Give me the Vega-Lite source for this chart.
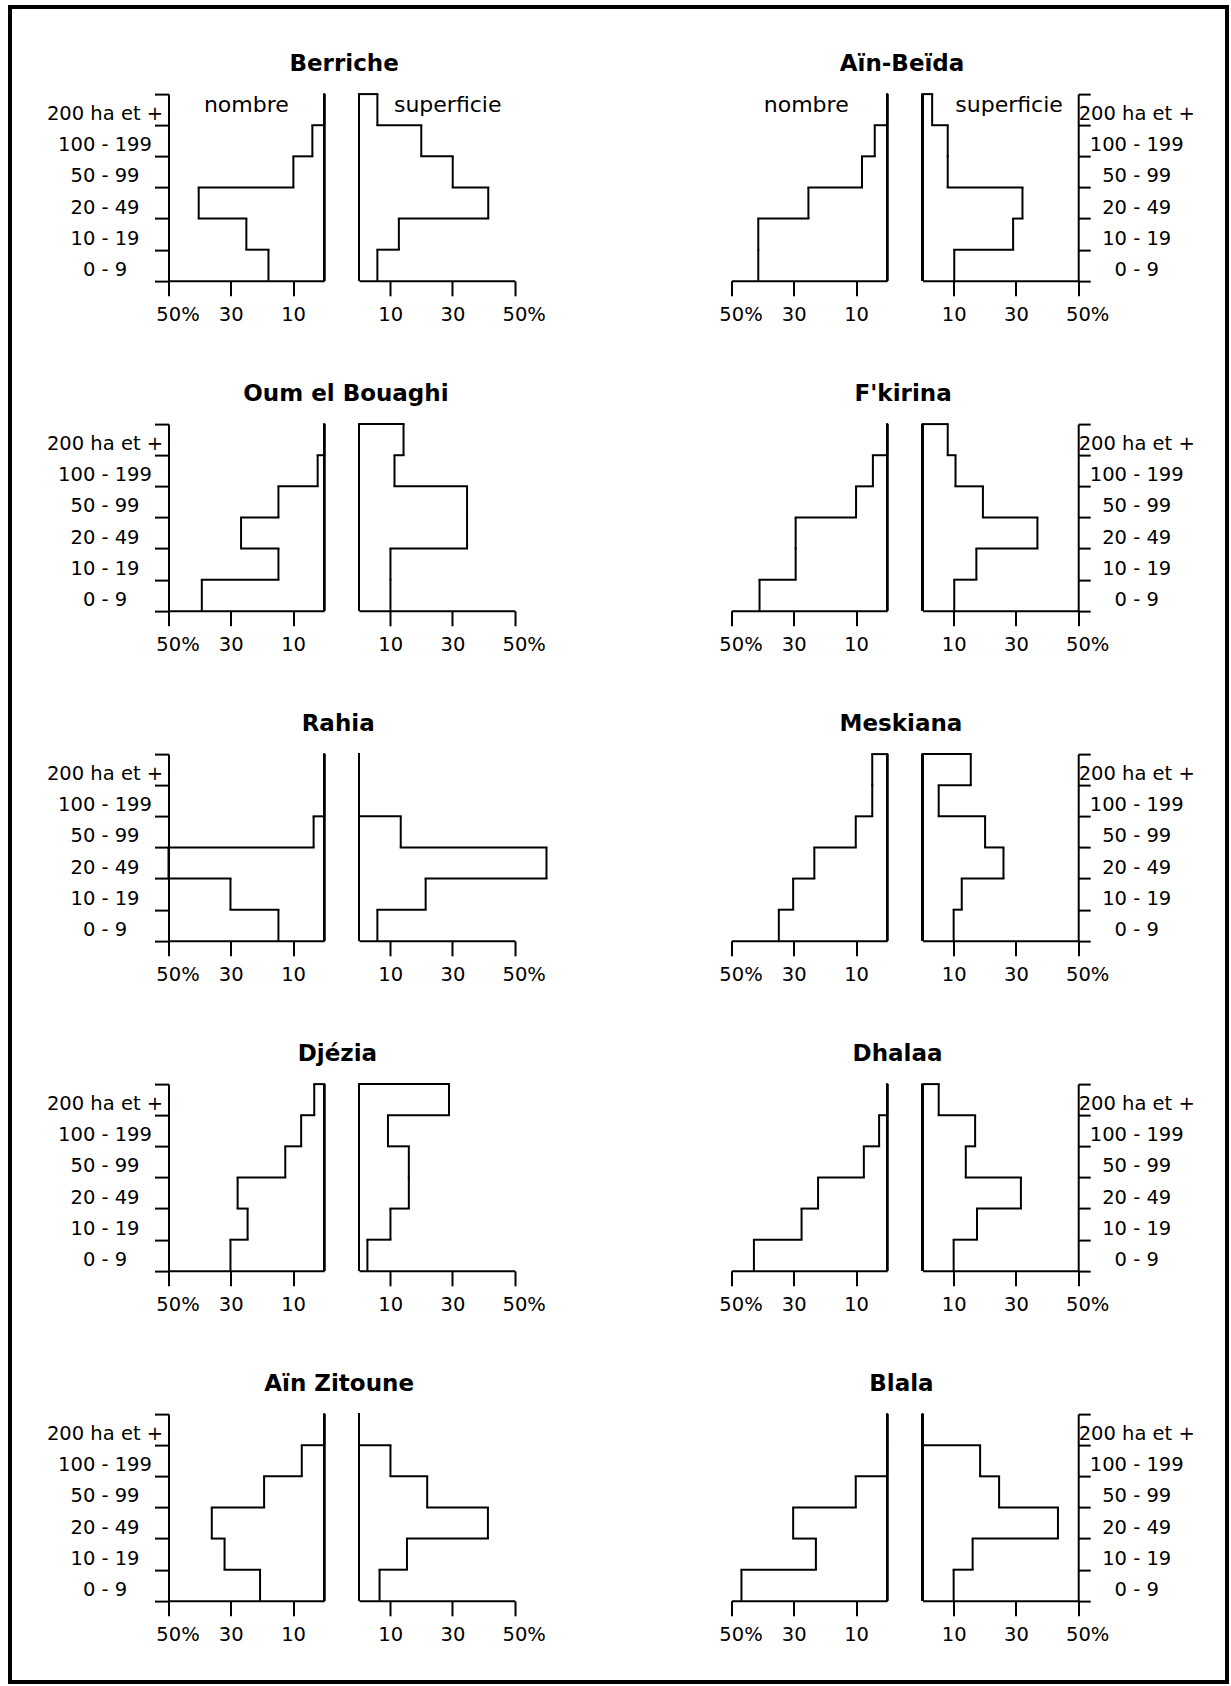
{
"$schema":"https://vega.github.io/schema/vega-lite/v6.json",
"background":"white",
"padding":{"left":10,"top":7,"right":4,"bottom":4},
"data":{"values":[
{"r":"Berriche","t":"n","c":"200 ha et +","k":5,"v":0},{"r":"Berriche","t":"n","c":"100 - 199","k":4,"v":3.8},{"r":"Berriche","t":"n","c":"50 - 99","k":3,"v":9.9},{"r":"Berriche","t":"n","c":"20 - 49","k":2,"v":40.3},{"r":"Berriche","t":"n","c":"10 - 19","k":1,"v":25.0},{"r":"Berriche","t":"n","c":"0 - 9","k":0,"v":17.9},
{"r":"Berriche","t":"s","c":"200 ha et +","k":5,"v":5.9},{"r":"Berriche","t":"s","c":"100 - 199","k":4,"v":20.0},{"r":"Berriche","t":"s","c":"50 - 99","k":3,"v":30.1},{"r":"Berriche","t":"s","c":"20 - 49","k":2,"v":41.5},{"r":"Berriche","t":"s","c":"10 - 19","k":1,"v":12.8},{"r":"Berriche","t":"s","c":"0 - 9","k":0,"v":5.9},
{"r":"Aïn-Beïda","t":"n","c":"200 ha et +","k":5,"v":0},{"r":"Aïn-Beïda","t":"n","c":"100 - 199","k":4,"v":4.0},{"r":"Aïn-Beïda","t":"n","c":"50 - 99","k":3,"v":8.1},{"r":"Aïn-Beïda","t":"n","c":"20 - 49","k":2,"v":25.3},{"r":"Aïn-Beïda","t":"n","c":"10 - 19","k":1,"v":41.4},{"r":"Aïn-Beïda","t":"n","c":"0 - 9","k":0,"v":41.4},
{"r":"Aïn-Beïda","t":"s","c":"200 ha et +","k":5,"v":3.1},{"r":"Aïn-Beïda","t":"s","c":"100 - 199","k":4,"v":8.1},{"r":"Aïn-Beïda","t":"s","c":"50 - 99","k":3,"v":8.1},{"r":"Aïn-Beïda","t":"s","c":"20 - 49","k":2,"v":32.1},{"r":"Aïn-Beïda","t":"s","c":"10 - 19","k":1,"v":29.1},{"r":"Aïn-Beïda","t":"s","c":"0 - 9","k":0,"v":10.2},
{"r":"Oum el Bouaghi","t":"n","c":"200 ha et +","k":5,"v":0},{"r":"Oum el Bouaghi","t":"n","c":"100 - 199","k":4,"v":2.1},{"r":"Oum el Bouaghi","t":"n","c":"50 - 99","k":3,"v":14.7},{"r":"Oum el Bouaghi","t":"n","c":"20 - 49","k":2,"v":26.7},{"r":"Oum el Bouaghi","t":"n","c":"10 - 19","k":1,"v":14.7},{"r":"Oum el Bouaghi","t":"n","c":"0 - 9","k":0,"v":39.3},
{"r":"Oum el Bouaghi","t":"s","c":"200 ha et +","k":5,"v":14.3},{"r":"Oum el Bouaghi","t":"s","c":"100 - 199","k":4,"v":11.4},{"r":"Oum el Bouaghi","t":"s","c":"50 - 99","k":3,"v":34.7},{"r":"Oum el Bouaghi","t":"s","c":"20 - 49","k":2,"v":34.7},{"r":"Oum el Bouaghi","t":"s","c":"10 - 19","k":1,"v":10.1},{"r":"Oum el Bouaghi","t":"s","c":"0 - 9","k":0,"v":10.1},
{"r":"F'kirina","t":"n","c":"200 ha et +","k":5,"v":0},{"r":"F'kirina","t":"n","c":"100 - 199","k":4,"v":4.6},{"r":"F'kirina","t":"n","c":"50 - 99","k":3,"v":10.0},{"r":"F'kirina","t":"n","c":"20 - 49","k":2,"v":29.4},{"r":"F'kirina","t":"n","c":"10 - 19","k":1,"v":29.4},{"r":"F'kirina","t":"n","c":"0 - 9","k":0,"v":41.0},
{"r":"F'kirina","t":"s","c":"200 ha et +","k":5,"v":8.1},{"r":"F'kirina","t":"s","c":"100 - 199","k":4,"v":10.6},{"r":"F'kirina","t":"s","c":"50 - 99","k":3,"v":19.4},{"r":"F'kirina","t":"s","c":"20 - 49","k":2,"v":36.9},{"r":"F'kirina","t":"s","c":"10 - 19","k":1,"v":17.3},{"r":"F'kirina","t":"s","c":"0 - 9","k":0,"v":10.2},
{"r":"Rahia","t":"n","c":"200 ha et +","k":5,"v":0},{"r":"Rahia","t":"n","c":"100 - 199","k":4,"v":0},{"r":"Rahia","t":"n","c":"50 - 99","k":3,"v":3.4},{"r":"Rahia","t":"n","c":"20 - 49","k":2,"v":50.0},{"r":"Rahia","t":"n","c":"10 - 19","k":1,"v":30.1},{"r":"Rahia","t":"n","c":"0 - 9","k":0,"v":14.7},
{"r":"Rahia","t":"s","c":"200 ha et +","k":5,"v":0},{"r":"Rahia","t":"s","c":"100 - 199","k":4,"v":0},{"r":"Rahia","t":"s","c":"50 - 99","k":3,"v":13.4},{"r":"Rahia","t":"s","c":"20 - 49","k":2,"v":60.2},{"r":"Rahia","t":"s","c":"10 - 19","k":1,"v":21.4},{"r":"Rahia","t":"s","c":"0 - 9","k":0,"v":5.9},
{"r":"Meskiana","t":"n","c":"200 ha et +","k":5,"v":4.8},{"r":"Meskiana","t":"n","c":"100 - 199","k":4,"v":4.8},{"r":"Meskiana","t":"n","c":"50 - 99","k":3,"v":10.1},{"r":"Meskiana","t":"n","c":"20 - 49","k":2,"v":23.4},{"r":"Meskiana","t":"n","c":"10 - 19","k":1,"v":30.2},{"r":"Meskiana","t":"n","c":"0 - 9","k":0,"v":34.8},
{"r":"Meskiana","t":"s","c":"200 ha et +","k":5,"v":15.5},{"r":"Meskiana","t":"s","c":"100 - 199","k":4,"v":5.2},{"r":"Meskiana","t":"s","c":"50 - 99","k":3,"v":20.1},{"r":"Meskiana","t":"s","c":"20 - 49","k":2,"v":26.0},{"r":"Meskiana","t":"s","c":"10 - 19","k":1,"v":12.6},{"r":"Meskiana","t":"s","c":"0 - 9","k":0,"v":10.0},
{"r":"Djézia","t":"n","c":"200 ha et +","k":5,"v":3.2},{"r":"Djézia","t":"n","c":"100 - 199","k":4,"v":7.4},{"r":"Djézia","t":"n","c":"50 - 99","k":3,"v":12.5},{"r":"Djézia","t":"n","c":"20 - 49","k":2,"v":27.8},{"r":"Djézia","t":"n","c":"10 - 19","k":1,"v":24.6},{"r":"Djézia","t":"n","c":"0 - 9","k":0,"v":30.1},
{"r":"Djézia","t":"s","c":"200 ha et +","k":5,"v":28.9},{"r":"Djézia","t":"s","c":"100 - 199","k":4,"v":9.3},{"r":"Djézia","t":"s","c":"50 - 99","k":3,"v":16.0},{"r":"Djézia","t":"s","c":"20 - 49","k":2,"v":16.0},{"r":"Djézia","t":"s","c":"10 - 19","k":1,"v":10.1},{"r":"Djézia","t":"s","c":"0 - 9","k":0,"v":2.7},
{"r":"Dhalaa","t":"n","c":"200 ha et +","k":5,"v":0},{"r":"Dhalaa","t":"n","c":"100 - 199","k":4,"v":2.6},{"r":"Dhalaa","t":"n","c":"50 - 99","k":3,"v":7.5},{"r":"Dhalaa","t":"n","c":"20 - 49","k":2,"v":22.2},{"r":"Dhalaa","t":"n","c":"10 - 19","k":1,"v":27.5},{"r":"Dhalaa","t":"n","c":"0 - 9","k":0,"v":42.8},
{"r":"Dhalaa","t":"s","c":"200 ha et +","k":5,"v":5.2},{"r":"Dhalaa","t":"s","c":"100 - 199","k":4,"v":16.9},{"r":"Dhalaa","t":"s","c":"50 - 99","k":3,"v":13.9},{"r":"Dhalaa","t":"s","c":"20 - 49","k":2,"v":31.6},{"r":"Dhalaa","t":"s","c":"10 - 19","k":1,"v":17.5},{"r":"Dhalaa","t":"s","c":"0 - 9","k":0,"v":10.0},
{"r":"Aïn Zitoune","t":"n","c":"200 ha et +","k":5,"v":0},{"r":"Aïn Zitoune","t":"n","c":"100 - 199","k":4,"v":7.2},{"r":"Aïn Zitoune","t":"n","c":"50 - 99","k":3,"v":19.3},{"r":"Aïn Zitoune","t":"n","c":"20 - 49","k":2,"v":36.1},{"r":"Aïn Zitoune","t":"n","c":"10 - 19","k":1,"v":32.0},{"r":"Aïn Zitoune","t":"n","c":"0 - 9","k":0,"v":20.6},
{"r":"Aïn Zitoune","t":"s","c":"200 ha et +","k":5,"v":0},{"r":"Aïn Zitoune","t":"s","c":"100 - 199","k":4,"v":10.1},{"r":"Aïn Zitoune","t":"s","c":"50 - 99","k":3,"v":21.9},{"r":"Aïn Zitoune","t":"s","c":"20 - 49","k":2,"v":41.4},{"r":"Aïn Zitoune","t":"s","c":"10 - 19","k":1,"v":15.4},{"r":"Aïn Zitoune","t":"s","c":"0 - 9","k":0,"v":6.6},
{"r":"Blala","t":"n","c":"200 ha et +","k":5,"v":0},{"r":"Blala","t":"n","c":"100 - 199","k":4,"v":0},{"r":"Blala","t":"n","c":"50 - 99","k":3,"v":10.1},{"r":"Blala","t":"n","c":"20 - 49","k":2,"v":30.2},{"r":"Blala","t":"n","c":"10 - 19","k":1,"v":22.9},{"r":"Blala","t":"n","c":"0 - 9","k":0,"v":46.8},
{"r":"Blala","t":"s","c":"200 ha et +","k":5,"v":0},{"r":"Blala","t":"s","c":"100 - 199","k":4,"v":18.5},{"r":"Blala","t":"s","c":"50 - 99","k":3,"v":24.6},{"r":"Blala","t":"s","c":"20 - 49","k":2,"v":43.5},{"r":"Blala","t":"s","c":"10 - 19","k":1,"v":16.1},{"r":"Blala","t":"s","c":"0 - 9","k":0,"v":10.0}
]},
"spacing":34.5,
"hconcat":[
{"width":1,"height":1,"data":{"values":[]},"mark":{"type":"rule"},"encoding":{}},
{"spacing":45.1,"vconcat":[
{"width":1,"height":1,"data":{"values":[]},"mark":{"type":"rule"},"encoding":{}},
{"spacing":170,"hconcat":[
{"spacing":58,"vconcat":[
{"title":{"text":"Berriche","dx":48.2},"spacing":34.5,"bounds":"flush","hconcat":[
{"width":155.7,"height":186.7,"transform":[{"filter":"datum.r == 'Berriche' && datum.t == 'n'"}],"layer":[
{"mark":{"type":"tick","color":"black","thickness":2,"size":31.1,"opacity":1},"encoding":{"x":{"field":"v","type":"quantitative","title":null,"scale":{"domain":[0,50],"reverse":true,"nice":false},"axis":{"title":null,"values":[10,30,50],"labelExpr":"datum.value == 50 ? '50%' : datum.label","labelOffset":{"condition":{"test":"datum.value == 50","value":9},"value":0}}},"y":{"field":"c","type":"ordinal","title":null,"scale":{"type":"band","domain":["200 ha et +","100 - 199","50 - 99","20 - 49","10 - 19","0 - 9"],"paddingInner":0,"paddingOuter":0},"axis":{"title":null,"tickBand":"extent"}}}},
{"mark":{"type":"rule","color":"black","strokeWidth":2},"encoding":{"x":{"datum":0,"type":"quantitative","title":null}}},
{"transform":[{"window":[{"op":"lead","field":"v","as":"u"}],"sort":[{"field":"k","order":"ascending"}]},{"filter":"datum.u != null"}],"mark":{"type":"rule","color":"black","strokeWidth":2,"strokeCap":"square"},"encoding":{"x":{"field":"v","type":"quantitative","title":null},"x2":{"field":"u"},"y":{"field":"c","type":"ordinal","title":null,"bandPosition":0}}},
{"transform":[{"filter":"datum.k == 5"}],"mark":{"type":"rule","color":"black","strokeWidth":2,"strokeCap":"square"},"encoding":{"x":{"field":"v","type":"quantitative","title":null},"x2":{"datum":0},"y":{"field":"c","type":"ordinal","title":null,"bandPosition":0}}},
{"transform":[{"filter":"datum.k == 5"}],"mark":{"type":"text","fontSize":22,"baseline":"alphabetic","dy":2,"color":"black"},"encoding":{"x":{"datum":25,"type":"quantitative","title":null},"y":{"field":"c","type":"ordinal","title":null},"text":{"value":"nombre"}}}
]},
{"width":155.7,"height":186.7,"transform":[{"filter":"datum.r == 'Berriche' && datum.t == 's'"}],"layer":[
{"mark":{"type":"tick","color":"black","thickness":2,"size":31.1,"opacity":1},"encoding":{"x":{"field":"v","type":"quantitative","title":null,"scale":{"domain":[0,50],"nice":false},"axis":{"title":null,"values":[10,30,50],"labelExpr":"datum.value == 50 ? '50%' : datum.label","labelOffset":{"condition":{"test":"datum.value == 50","value":9},"value":0}}},"y":{"field":"c","type":"ordinal","title":null,"scale":{"type":"band","domain":["200 ha et +","100 - 199","50 - 99","20 - 49","10 - 19","0 - 9"],"paddingInner":0,"paddingOuter":0},"axis":null}}},
{"mark":{"type":"rule","color":"black","strokeWidth":2},"encoding":{"x":{"datum":0,"type":"quantitative","title":null}}},
{"transform":[{"window":[{"op":"lead","field":"v","as":"u"}],"sort":[{"field":"k","order":"ascending"}]},{"filter":"datum.u != null"}],"mark":{"type":"rule","color":"black","strokeWidth":2,"strokeCap":"square"},"encoding":{"x":{"field":"v","type":"quantitative","title":null},"x2":{"field":"u"},"y":{"field":"c","type":"ordinal","title":null,"bandPosition":0,"axis":null}}},
{"transform":[{"filter":"datum.k == 5"}],"mark":{"type":"rule","color":"black","strokeWidth":2,"strokeCap":"square"},"encoding":{"x":{"field":"v","type":"quantitative","title":null},"x2":{"datum":0},"y":{"field":"c","type":"ordinal","title":null,"bandPosition":0,"axis":null}}},
{"transform":[{"filter":"datum.k == 5"}],"mark":{"type":"text","fontSize":22,"baseline":"alphabetic","dy":2,"color":"black"},"encoding":{"x":{"datum":28.5,"type":"quantitative","title":null},"y":{"field":"c","type":"ordinal","title":null,"axis":null},"text":{"value":"superficie"}}}
]}
]},
{"title":{"text":"Oum el Bouaghi","dx":50},"spacing":34.5,"bounds":"flush","hconcat":[
{"width":155.7,"height":186.7,"transform":[{"filter":"datum.r == 'Oum el Bouaghi' && datum.t == 'n'"}],"layer":[
{"mark":{"type":"tick","color":"black","thickness":2,"size":31.1,"opacity":1},"encoding":{"x":{"field":"v","type":"quantitative","title":null,"scale":{"domain":[0,50],"reverse":true,"nice":false},"axis":{"title":null,"values":[10,30,50],"labelExpr":"datum.value == 50 ? '50%' : datum.label","labelOffset":{"condition":{"test":"datum.value == 50","value":9},"value":0}}},"y":{"field":"c","type":"ordinal","title":null,"scale":{"type":"band","domain":["200 ha et +","100 - 199","50 - 99","20 - 49","10 - 19","0 - 9"],"paddingInner":0,"paddingOuter":0},"axis":{"title":null,"tickBand":"extent"}}}},
{"mark":{"type":"rule","color":"black","strokeWidth":2},"encoding":{"x":{"datum":0,"type":"quantitative","title":null}}},
{"transform":[{"window":[{"op":"lead","field":"v","as":"u"}],"sort":[{"field":"k","order":"ascending"}]},{"filter":"datum.u != null"}],"mark":{"type":"rule","color":"black","strokeWidth":2,"strokeCap":"square"},"encoding":{"x":{"field":"v","type":"quantitative","title":null},"x2":{"field":"u"},"y":{"field":"c","type":"ordinal","title":null,"bandPosition":0}}},
{"transform":[{"filter":"datum.k == 5"}],"mark":{"type":"rule","color":"black","strokeWidth":2,"strokeCap":"square"},"encoding":{"x":{"field":"v","type":"quantitative","title":null},"x2":{"datum":0},"y":{"field":"c","type":"ordinal","title":null,"bandPosition":0}}}
]},
{"width":155.7,"height":186.7,"transform":[{"filter":"datum.r == 'Oum el Bouaghi' && datum.t == 's'"}],"layer":[
{"mark":{"type":"tick","color":"black","thickness":2,"size":31.1,"opacity":1},"encoding":{"x":{"field":"v","type":"quantitative","title":null,"scale":{"domain":[0,50],"nice":false},"axis":{"title":null,"values":[10,30,50],"labelExpr":"datum.value == 50 ? '50%' : datum.label","labelOffset":{"condition":{"test":"datum.value == 50","value":9},"value":0}}},"y":{"field":"c","type":"ordinal","title":null,"scale":{"type":"band","domain":["200 ha et +","100 - 199","50 - 99","20 - 49","10 - 19","0 - 9"],"paddingInner":0,"paddingOuter":0},"axis":null}}},
{"mark":{"type":"rule","color":"black","strokeWidth":2},"encoding":{"x":{"datum":0,"type":"quantitative","title":null}}},
{"transform":[{"window":[{"op":"lead","field":"v","as":"u"}],"sort":[{"field":"k","order":"ascending"}]},{"filter":"datum.u != null"}],"mark":{"type":"rule","color":"black","strokeWidth":2,"strokeCap":"square"},"encoding":{"x":{"field":"v","type":"quantitative","title":null},"x2":{"field":"u"},"y":{"field":"c","type":"ordinal","title":null,"bandPosition":0,"axis":null}}},
{"transform":[{"filter":"datum.k == 5"}],"mark":{"type":"rule","color":"black","strokeWidth":2,"strokeCap":"square"},"encoding":{"x":{"field":"v","type":"quantitative","title":null},"x2":{"datum":0},"y":{"field":"c","type":"ordinal","title":null,"bandPosition":0,"axis":null}}}
]}
]},
{"title":{"text":"Rahia","dx":41},"spacing":34.5,"bounds":"flush","hconcat":[
{"width":155.7,"height":186.7,"transform":[{"filter":"datum.r == 'Rahia' && datum.t == 'n'"}],"layer":[
{"mark":{"type":"tick","color":"black","thickness":2,"size":31.1,"opacity":1},"encoding":{"x":{"field":"v","type":"quantitative","title":null,"scale":{"domain":[0,50],"reverse":true,"nice":false},"axis":{"title":null,"values":[10,30,50],"labelExpr":"datum.value == 50 ? '50%' : datum.label","labelOffset":{"condition":{"test":"datum.value == 50","value":9},"value":0}}},"y":{"field":"c","type":"ordinal","title":null,"scale":{"type":"band","domain":["200 ha et +","100 - 199","50 - 99","20 - 49","10 - 19","0 - 9"],"paddingInner":0,"paddingOuter":0},"axis":{"title":null,"tickBand":"extent"}}}},
{"mark":{"type":"rule","color":"black","strokeWidth":2},"encoding":{"x":{"datum":0,"type":"quantitative","title":null}}},
{"transform":[{"window":[{"op":"lead","field":"v","as":"u"}],"sort":[{"field":"k","order":"ascending"}]},{"filter":"datum.u != null"}],"mark":{"type":"rule","color":"black","strokeWidth":2,"strokeCap":"square"},"encoding":{"x":{"field":"v","type":"quantitative","title":null},"x2":{"field":"u"},"y":{"field":"c","type":"ordinal","title":null,"bandPosition":0}}},
{"transform":[{"filter":"datum.k == 5"}],"mark":{"type":"rule","color":"black","strokeWidth":2,"strokeCap":"square"},"encoding":{"x":{"field":"v","type":"quantitative","title":null},"x2":{"datum":0},"y":{"field":"c","type":"ordinal","title":null,"bandPosition":0}}}
]},
{"width":155.7,"height":186.7,"transform":[{"filter":"datum.r == 'Rahia' && datum.t == 's'"}],"layer":[
{"mark":{"type":"tick","color":"black","thickness":2,"size":31.1,"opacity":1},"encoding":{"x":{"field":"v","type":"quantitative","title":null,"scale":{"domain":[0,50],"nice":false},"axis":{"title":null,"values":[10,30,50],"labelExpr":"datum.value == 50 ? '50%' : datum.label","labelOffset":{"condition":{"test":"datum.value == 50","value":9},"value":0}}},"y":{"field":"c","type":"ordinal","title":null,"scale":{"type":"band","domain":["200 ha et +","100 - 199","50 - 99","20 - 49","10 - 19","0 - 9"],"paddingInner":0,"paddingOuter":0},"axis":null}}},
{"mark":{"type":"rule","color":"black","strokeWidth":2},"encoding":{"x":{"datum":0,"type":"quantitative","title":null}}},
{"transform":[{"window":[{"op":"lead","field":"v","as":"u"}],"sort":[{"field":"k","order":"ascending"}]},{"filter":"datum.u != null"}],"mark":{"type":"rule","color":"black","strokeWidth":2,"strokeCap":"square"},"encoding":{"x":{"field":"v","type":"quantitative","title":null},"x2":{"field":"u"},"y":{"field":"c","type":"ordinal","title":null,"bandPosition":0,"axis":null}}},
{"transform":[{"filter":"datum.k == 5"}],"mark":{"type":"rule","color":"black","strokeWidth":2,"strokeCap":"square"},"encoding":{"x":{"field":"v","type":"quantitative","title":null},"x2":{"datum":0},"y":{"field":"c","type":"ordinal","title":null,"bandPosition":0,"axis":null}}}
]}
]},
{"title":{"text":"Djézia","dx":41.5},"spacing":34.5,"bounds":"flush","hconcat":[
{"width":155.7,"height":186.7,"transform":[{"filter":"datum.r == 'Djézia' && datum.t == 'n'"}],"layer":[
{"mark":{"type":"tick","color":"black","thickness":2,"size":31.1,"opacity":1},"encoding":{"x":{"field":"v","type":"quantitative","title":null,"scale":{"domain":[0,50],"reverse":true,"nice":false},"axis":{"title":null,"values":[10,30,50],"labelExpr":"datum.value == 50 ? '50%' : datum.label","labelOffset":{"condition":{"test":"datum.value == 50","value":9},"value":0}}},"y":{"field":"c","type":"ordinal","title":null,"scale":{"type":"band","domain":["200 ha et +","100 - 199","50 - 99","20 - 49","10 - 19","0 - 9"],"paddingInner":0,"paddingOuter":0},"axis":{"title":null,"tickBand":"extent"}}}},
{"mark":{"type":"rule","color":"black","strokeWidth":2},"encoding":{"x":{"datum":0,"type":"quantitative","title":null}}},
{"transform":[{"window":[{"op":"lead","field":"v","as":"u"}],"sort":[{"field":"k","order":"ascending"}]},{"filter":"datum.u != null"}],"mark":{"type":"rule","color":"black","strokeWidth":2,"strokeCap":"square"},"encoding":{"x":{"field":"v","type":"quantitative","title":null},"x2":{"field":"u"},"y":{"field":"c","type":"ordinal","title":null,"bandPosition":0}}},
{"transform":[{"filter":"datum.k == 5"}],"mark":{"type":"rule","color":"black","strokeWidth":2,"strokeCap":"square"},"encoding":{"x":{"field":"v","type":"quantitative","title":null},"x2":{"datum":0},"y":{"field":"c","type":"ordinal","title":null,"bandPosition":0}}}
]},
{"width":155.7,"height":186.7,"transform":[{"filter":"datum.r == 'Djézia' && datum.t == 's'"}],"layer":[
{"mark":{"type":"tick","color":"black","thickness":2,"size":31.1,"opacity":1},"encoding":{"x":{"field":"v","type":"quantitative","title":null,"scale":{"domain":[0,50],"nice":false},"axis":{"title":null,"values":[10,30,50],"labelExpr":"datum.value == 50 ? '50%' : datum.label","labelOffset":{"condition":{"test":"datum.value == 50","value":9},"value":0}}},"y":{"field":"c","type":"ordinal","title":null,"scale":{"type":"band","domain":["200 ha et +","100 - 199","50 - 99","20 - 49","10 - 19","0 - 9"],"paddingInner":0,"paddingOuter":0},"axis":null}}},
{"mark":{"type":"rule","color":"black","strokeWidth":2},"encoding":{"x":{"datum":0,"type":"quantitative","title":null}}},
{"transform":[{"window":[{"op":"lead","field":"v","as":"u"}],"sort":[{"field":"k","order":"ascending"}]},{"filter":"datum.u != null"}],"mark":{"type":"rule","color":"black","strokeWidth":2,"strokeCap":"square"},"encoding":{"x":{"field":"v","type":"quantitative","title":null},"x2":{"field":"u"},"y":{"field":"c","type":"ordinal","title":null,"bandPosition":0,"axis":null}}},
{"transform":[{"filter":"datum.k == 5"}],"mark":{"type":"rule","color":"black","strokeWidth":2,"strokeCap":"square"},"encoding":{"x":{"field":"v","type":"quantitative","title":null},"x2":{"datum":0},"y":{"field":"c","type":"ordinal","title":null,"bandPosition":0,"axis":null}}}
]}
]},
{"title":{"text":"Aïn Zitoune","dx":43.2},"spacing":34.5,"bounds":"flush","hconcat":[
{"width":155.7,"height":186.7,"transform":[{"filter":"datum.r == 'Aïn Zitoune' && datum.t == 'n'"}],"layer":[
{"mark":{"type":"tick","color":"black","thickness":2,"size":31.1,"opacity":1},"encoding":{"x":{"field":"v","type":"quantitative","title":null,"scale":{"domain":[0,50],"reverse":true,"nice":false},"axis":{"title":null,"values":[10,30,50],"labelExpr":"datum.value == 50 ? '50%' : datum.label","labelOffset":{"condition":{"test":"datum.value == 50","value":9},"value":0}}},"y":{"field":"c","type":"ordinal","title":null,"scale":{"type":"band","domain":["200 ha et +","100 - 199","50 - 99","20 - 49","10 - 19","0 - 9"],"paddingInner":0,"paddingOuter":0},"axis":{"title":null,"tickBand":"extent"}}}},
{"mark":{"type":"rule","color":"black","strokeWidth":2},"encoding":{"x":{"datum":0,"type":"quantitative","title":null}}},
{"transform":[{"window":[{"op":"lead","field":"v","as":"u"}],"sort":[{"field":"k","order":"ascending"}]},{"filter":"datum.u != null"}],"mark":{"type":"rule","color":"black","strokeWidth":2,"strokeCap":"square"},"encoding":{"x":{"field":"v","type":"quantitative","title":null},"x2":{"field":"u"},"y":{"field":"c","type":"ordinal","title":null,"bandPosition":0}}},
{"transform":[{"filter":"datum.k == 5"}],"mark":{"type":"rule","color":"black","strokeWidth":2,"strokeCap":"square"},"encoding":{"x":{"field":"v","type":"quantitative","title":null},"x2":{"datum":0},"y":{"field":"c","type":"ordinal","title":null,"bandPosition":0}}}
]},
{"width":155.7,"height":186.7,"transform":[{"filter":"datum.r == 'Aïn Zitoune' && datum.t == 's'"}],"layer":[
{"mark":{"type":"tick","color":"black","thickness":2,"size":31.1,"opacity":1},"encoding":{"x":{"field":"v","type":"quantitative","title":null,"scale":{"domain":[0,50],"nice":false},"axis":{"title":null,"values":[10,30,50],"labelExpr":"datum.value == 50 ? '50%' : datum.label","labelOffset":{"condition":{"test":"datum.value == 50","value":9},"value":0}}},"y":{"field":"c","type":"ordinal","title":null,"scale":{"type":"band","domain":["200 ha et +","100 - 199","50 - 99","20 - 49","10 - 19","0 - 9"],"paddingInner":0,"paddingOuter":0},"axis":null}}},
{"mark":{"type":"rule","color":"black","strokeWidth":2},"encoding":{"x":{"datum":0,"type":"quantitative","title":null}}},
{"transform":[{"window":[{"op":"lead","field":"v","as":"u"}],"sort":[{"field":"k","order":"ascending"}]},{"filter":"datum.u != null"}],"mark":{"type":"rule","color":"black","strokeWidth":2,"strokeCap":"square"},"encoding":{"x":{"field":"v","type":"quantitative","title":null},"x2":{"field":"u"},"y":{"field":"c","type":"ordinal","title":null,"bandPosition":0,"axis":null}}},
{"transform":[{"filter":"datum.k == 5"}],"mark":{"type":"rule","color":"black","strokeWidth":2,"strokeCap":"square"},"encoding":{"x":{"field":"v","type":"quantitative","title":null},"x2":{"datum":0},"y":{"field":"c","type":"ordinal","title":null,"bandPosition":0,"axis":null}}}
]}
]}
]},
{"spacing":58,"vconcat":[
{"title":{"text":"Aïn-Beïda","dx":-54.5},"spacing":35,"bounds":"flush","hconcat":[
{"width":155.7,"height":186.7,"transform":[{"filter":"datum.r == 'Aïn-Beïda' && datum.t == 'n'"}],"layer":[
{"mark":{"type":"tick","color":"black","thickness":2,"size":31.1,"opacity":1},"encoding":{"x":{"field":"v","type":"quantitative","title":null,"scale":{"domain":[0,50],"reverse":true,"nice":false},"axis":{"title":null,"values":[10,30,50],"labelExpr":"datum.value == 50 ? '50%' : datum.label","labelOffset":{"condition":{"test":"datum.value == 50","value":9},"value":0}}},"y":{"field":"c","type":"ordinal","title":null,"scale":{"type":"band","domain":["200 ha et +","100 - 199","50 - 99","20 - 49","10 - 19","0 - 9"],"paddingInner":0,"paddingOuter":0},"axis":null}}},
{"mark":{"type":"rule","color":"black","strokeWidth":2},"encoding":{"x":{"datum":0,"type":"quantitative","title":null}}},
{"transform":[{"window":[{"op":"lead","field":"v","as":"u"}],"sort":[{"field":"k","order":"ascending"}]},{"filter":"datum.u != null"}],"mark":{"type":"rule","color":"black","strokeWidth":2,"strokeCap":"square"},"encoding":{"x":{"field":"v","type":"quantitative","title":null},"x2":{"field":"u"},"y":{"field":"c","type":"ordinal","title":null,"bandPosition":0,"axis":null}}},
{"transform":[{"filter":"datum.k == 5"}],"mark":{"type":"rule","color":"black","strokeWidth":2,"strokeCap":"square"},"encoding":{"x":{"field":"v","type":"quantitative","title":null},"x2":{"datum":0},"y":{"field":"c","type":"ordinal","title":null,"bandPosition":0,"axis":null}}},
{"transform":[{"filter":"datum.k == 5"}],"mark":{"type":"text","fontSize":22,"baseline":"alphabetic","dy":2,"color":"black"},"encoding":{"x":{"datum":26,"type":"quantitative","title":null},"y":{"field":"c","type":"ordinal","title":null,"axis":null},"text":{"value":"nombre"}}}
]},
{"width":155.7,"height":186.7,"transform":[{"filter":"datum.r == 'Aïn-Beïda' && datum.t == 's'"}],"layer":[
{"mark":{"type":"tick","color":"black","thickness":2,"size":31.1,"opacity":1},"encoding":{"x":{"field":"v","type":"quantitative","title":null,"scale":{"domain":[0,50],"nice":false},"axis":{"title":null,"values":[10,30,50],"labelExpr":"datum.value == 50 ? '50%' : datum.label","labelOffset":{"condition":{"test":"datum.value == 50","value":9},"value":0}}},"y":{"field":"c","type":"ordinal","title":null,"scale":{"type":"band","domain":["200 ha et +","100 - 199","50 - 99","20 - 49","10 - 19","0 - 9"],"paddingInner":0,"paddingOuter":0},"axis":{"title":null,"orient":"right","tickBand":"extent"}}}},
{"mark":{"type":"rule","color":"black","strokeWidth":2},"encoding":{"x":{"datum":0,"type":"quantitative","title":null}}},
{"transform":[{"window":[{"op":"lead","field":"v","as":"u"}],"sort":[{"field":"k","order":"ascending"}]},{"filter":"datum.u != null"}],"mark":{"type":"rule","color":"black","strokeWidth":2,"strokeCap":"square"},"encoding":{"x":{"field":"v","type":"quantitative","title":null},"x2":{"field":"u"},"y":{"field":"c","type":"ordinal","title":null,"bandPosition":0}}},
{"transform":[{"filter":"datum.k == 5"}],"mark":{"type":"rule","color":"black","strokeWidth":2,"strokeCap":"square"},"encoding":{"x":{"field":"v","type":"quantitative","title":null},"x2":{"datum":0},"y":{"field":"c","type":"ordinal","title":null,"bandPosition":0}}},
{"transform":[{"filter":"datum.k == 5"}],"mark":{"type":"text","fontSize":22,"baseline":"alphabetic","dy":2,"color":"black"},"encoding":{"x":{"datum":27.8,"type":"quantitative","title":null},"y":{"field":"c","type":"ordinal","title":null},"text":{"value":"superficie"}}}
]}
]},
{"title":{"text":"F'kirina","dx":-53.4},"spacing":35,"bounds":"flush","hconcat":[
{"width":155.7,"height":186.7,"transform":[{"filter":"datum.r == \"F'kirina\" && datum.t == 'n'"}],"layer":[
{"mark":{"type":"tick","color":"black","thickness":2,"size":31.1,"opacity":1},"encoding":{"x":{"field":"v","type":"quantitative","title":null,"scale":{"domain":[0,50],"reverse":true,"nice":false},"axis":{"title":null,"values":[10,30,50],"labelExpr":"datum.value == 50 ? '50%' : datum.label","labelOffset":{"condition":{"test":"datum.value == 50","value":9},"value":0}}},"y":{"field":"c","type":"ordinal","title":null,"scale":{"type":"band","domain":["200 ha et +","100 - 199","50 - 99","20 - 49","10 - 19","0 - 9"],"paddingInner":0,"paddingOuter":0},"axis":null}}},
{"mark":{"type":"rule","color":"black","strokeWidth":2},"encoding":{"x":{"datum":0,"type":"quantitative","title":null}}},
{"transform":[{"window":[{"op":"lead","field":"v","as":"u"}],"sort":[{"field":"k","order":"ascending"}]},{"filter":"datum.u != null"}],"mark":{"type":"rule","color":"black","strokeWidth":2,"strokeCap":"square"},"encoding":{"x":{"field":"v","type":"quantitative","title":null},"x2":{"field":"u"},"y":{"field":"c","type":"ordinal","title":null,"bandPosition":0,"axis":null}}},
{"transform":[{"filter":"datum.k == 5"}],"mark":{"type":"rule","color":"black","strokeWidth":2,"strokeCap":"square"},"encoding":{"x":{"field":"v","type":"quantitative","title":null},"x2":{"datum":0},"y":{"field":"c","type":"ordinal","title":null,"bandPosition":0,"axis":null}}}
]},
{"width":155.7,"height":186.7,"transform":[{"filter":"datum.r == \"F'kirina\" && datum.t == 's'"}],"layer":[
{"mark":{"type":"tick","color":"black","thickness":2,"size":31.1,"opacity":1},"encoding":{"x":{"field":"v","type":"quantitative","title":null,"scale":{"domain":[0,50],"nice":false},"axis":{"title":null,"values":[10,30,50],"labelExpr":"datum.value == 50 ? '50%' : datum.label","labelOffset":{"condition":{"test":"datum.value == 50","value":9},"value":0}}},"y":{"field":"c","type":"ordinal","title":null,"scale":{"type":"band","domain":["200 ha et +","100 - 199","50 - 99","20 - 49","10 - 19","0 - 9"],"paddingInner":0,"paddingOuter":0},"axis":{"title":null,"orient":"right","tickBand":"extent"}}}},
{"mark":{"type":"rule","color":"black","strokeWidth":2},"encoding":{"x":{"datum":0,"type":"quantitative","title":null}}},
{"transform":[{"window":[{"op":"lead","field":"v","as":"u"}],"sort":[{"field":"k","order":"ascending"}]},{"filter":"datum.u != null"}],"mark":{"type":"rule","color":"black","strokeWidth":2,"strokeCap":"square"},"encoding":{"x":{"field":"v","type":"quantitative","title":null},"x2":{"field":"u"},"y":{"field":"c","type":"ordinal","title":null,"bandPosition":0}}},
{"transform":[{"filter":"datum.k == 5"}],"mark":{"type":"rule","color":"black","strokeWidth":2,"strokeCap":"square"},"encoding":{"x":{"field":"v","type":"quantitative","title":null},"x2":{"datum":0},"y":{"field":"c","type":"ordinal","title":null,"bandPosition":0}}}
]}
]},
{"title":{"text":"Meskiana","dx":-55.6},"spacing":35,"bounds":"flush","hconcat":[
{"width":155.7,"height":186.7,"transform":[{"filter":"datum.r == 'Meskiana' && datum.t == 'n'"}],"layer":[
{"mark":{"type":"tick","color":"black","thickness":2,"size":31.1,"opacity":1},"encoding":{"x":{"field":"v","type":"quantitative","title":null,"scale":{"domain":[0,50],"reverse":true,"nice":false},"axis":{"title":null,"values":[10,30,50],"labelExpr":"datum.value == 50 ? '50%' : datum.label","labelOffset":{"condition":{"test":"datum.value == 50","value":9},"value":0}}},"y":{"field":"c","type":"ordinal","title":null,"scale":{"type":"band","domain":["200 ha et +","100 - 199","50 - 99","20 - 49","10 - 19","0 - 9"],"paddingInner":0,"paddingOuter":0},"axis":null}}},
{"mark":{"type":"rule","color":"black","strokeWidth":2},"encoding":{"x":{"datum":0,"type":"quantitative","title":null}}},
{"transform":[{"window":[{"op":"lead","field":"v","as":"u"}],"sort":[{"field":"k","order":"ascending"}]},{"filter":"datum.u != null"}],"mark":{"type":"rule","color":"black","strokeWidth":2,"strokeCap":"square"},"encoding":{"x":{"field":"v","type":"quantitative","title":null},"x2":{"field":"u"},"y":{"field":"c","type":"ordinal","title":null,"bandPosition":0,"axis":null}}},
{"transform":[{"filter":"datum.k == 5"}],"mark":{"type":"rule","color":"black","strokeWidth":2,"strokeCap":"square"},"encoding":{"x":{"field":"v","type":"quantitative","title":null},"x2":{"datum":0},"y":{"field":"c","type":"ordinal","title":null,"bandPosition":0,"axis":null}}}
]},
{"width":155.7,"height":186.7,"transform":[{"filter":"datum.r == 'Meskiana' && datum.t == 's'"}],"layer":[
{"mark":{"type":"tick","color":"black","thickness":2,"size":31.1,"opacity":1},"encoding":{"x":{"field":"v","type":"quantitative","title":null,"scale":{"domain":[0,50],"nice":false},"axis":{"title":null,"values":[10,30,50],"labelExpr":"datum.value == 50 ? '50%' : datum.label","labelOffset":{"condition":{"test":"datum.value == 50","value":9},"value":0}}},"y":{"field":"c","type":"ordinal","title":null,"scale":{"type":"band","domain":["200 ha et +","100 - 199","50 - 99","20 - 49","10 - 19","0 - 9"],"paddingInner":0,"paddingOuter":0},"axis":{"title":null,"orient":"right","tickBand":"extent"}}}},
{"mark":{"type":"rule","color":"black","strokeWidth":2},"encoding":{"x":{"datum":0,"type":"quantitative","title":null}}},
{"transform":[{"window":[{"op":"lead","field":"v","as":"u"}],"sort":[{"field":"k","order":"ascending"}]},{"filter":"datum.u != null"}],"mark":{"type":"rule","color":"black","strokeWidth":2,"strokeCap":"square"},"encoding":{"x":{"field":"v","type":"quantitative","title":null},"x2":{"field":"u"},"y":{"field":"c","type":"ordinal","title":null,"bandPosition":0}}},
{"transform":[{"filter":"datum.k == 5"}],"mark":{"type":"rule","color":"black","strokeWidth":2,"strokeCap":"square"},"encoding":{"x":{"field":"v","type":"quantitative","title":null},"x2":{"datum":0},"y":{"field":"c","type":"ordinal","title":null,"bandPosition":0}}}
]}
]},
{"title":{"text":"Dhalaa","dx":-59},"spacing":35,"bounds":"flush","hconcat":[
{"width":155.7,"height":186.7,"transform":[{"filter":"datum.r == 'Dhalaa' && datum.t == 'n'"}],"layer":[
{"mark":{"type":"tick","color":"black","thickness":2,"size":31.1,"opacity":1},"encoding":{"x":{"field":"v","type":"quantitative","title":null,"scale":{"domain":[0,50],"reverse":true,"nice":false},"axis":{"title":null,"values":[10,30,50],"labelExpr":"datum.value == 50 ? '50%' : datum.label","labelOffset":{"condition":{"test":"datum.value == 50","value":9},"value":0}}},"y":{"field":"c","type":"ordinal","title":null,"scale":{"type":"band","domain":["200 ha et +","100 - 199","50 - 99","20 - 49","10 - 19","0 - 9"],"paddingInner":0,"paddingOuter":0},"axis":null}}},
{"mark":{"type":"rule","color":"black","strokeWidth":2},"encoding":{"x":{"datum":0,"type":"quantitative","title":null}}},
{"transform":[{"window":[{"op":"lead","field":"v","as":"u"}],"sort":[{"field":"k","order":"ascending"}]},{"filter":"datum.u != null"}],"mark":{"type":"rule","color":"black","strokeWidth":2,"strokeCap":"square"},"encoding":{"x":{"field":"v","type":"quantitative","title":null},"x2":{"field":"u"},"y":{"field":"c","type":"ordinal","title":null,"bandPosition":0,"axis":null}}},
{"transform":[{"filter":"datum.k == 5"}],"mark":{"type":"rule","color":"black","strokeWidth":2,"strokeCap":"square"},"encoding":{"x":{"field":"v","type":"quantitative","title":null},"x2":{"datum":0},"y":{"field":"c","type":"ordinal","title":null,"bandPosition":0,"axis":null}}}
]},
{"width":155.7,"height":186.7,"transform":[{"filter":"datum.r == 'Dhalaa' && datum.t == 's'"}],"layer":[
{"mark":{"type":"tick","color":"black","thickness":2,"size":31.1,"opacity":1},"encoding":{"x":{"field":"v","type":"quantitative","title":null,"scale":{"domain":[0,50],"nice":false},"axis":{"title":null,"values":[10,30,50],"labelExpr":"datum.value == 50 ? '50%' : datum.label","labelOffset":{"condition":{"test":"datum.value == 50","value":9},"value":0}}},"y":{"field":"c","type":"ordinal","title":null,"scale":{"type":"band","domain":["200 ha et +","100 - 199","50 - 99","20 - 49","10 - 19","0 - 9"],"paddingInner":0,"paddingOuter":0},"axis":{"title":null,"orient":"right","tickBand":"extent"}}}},
{"mark":{"type":"rule","color":"black","strokeWidth":2},"encoding":{"x":{"datum":0,"type":"quantitative","title":null}}},
{"transform":[{"window":[{"op":"lead","field":"v","as":"u"}],"sort":[{"field":"k","order":"ascending"}]},{"filter":"datum.u != null"}],"mark":{"type":"rule","color":"black","strokeWidth":2,"strokeCap":"square"},"encoding":{"x":{"field":"v","type":"quantitative","title":null},"x2":{"field":"u"},"y":{"field":"c","type":"ordinal","title":null,"bandPosition":0}}},
{"transform":[{"filter":"datum.k == 5"}],"mark":{"type":"rule","color":"black","strokeWidth":2,"strokeCap":"square"},"encoding":{"x":{"field":"v","type":"quantitative","title":null},"x2":{"datum":0},"y":{"field":"c","type":"ordinal","title":null,"bandPosition":0}}}
]}
]},
{"title":{"text":"Blala","dx":-55.1},"spacing":35,"bounds":"flush","hconcat":[
{"width":155.7,"height":186.7,"transform":[{"filter":"datum.r == 'Blala' && datum.t == 'n'"}],"layer":[
{"mark":{"type":"tick","color":"black","thickness":2,"size":31.1,"opacity":1},"encoding":{"x":{"field":"v","type":"quantitative","title":null,"scale":{"domain":[0,50],"reverse":true,"nice":false},"axis":{"title":null,"values":[10,30,50],"labelExpr":"datum.value == 50 ? '50%' : datum.label","labelOffset":{"condition":{"test":"datum.value == 50","value":9},"value":0}}},"y":{"field":"c","type":"ordinal","title":null,"scale":{"type":"band","domain":["200 ha et +","100 - 199","50 - 99","20 - 49","10 - 19","0 - 9"],"paddingInner":0,"paddingOuter":0},"axis":null}}},
{"mark":{"type":"rule","color":"black","strokeWidth":2},"encoding":{"x":{"datum":0,"type":"quantitative","title":null}}},
{"transform":[{"window":[{"op":"lead","field":"v","as":"u"}],"sort":[{"field":"k","order":"ascending"}]},{"filter":"datum.u != null"}],"mark":{"type":"rule","color":"black","strokeWidth":2,"strokeCap":"square"},"encoding":{"x":{"field":"v","type":"quantitative","title":null},"x2":{"field":"u"},"y":{"field":"c","type":"ordinal","title":null,"bandPosition":0,"axis":null}}},
{"transform":[{"filter":"datum.k == 5"}],"mark":{"type":"rule","color":"black","strokeWidth":2,"strokeCap":"square"},"encoding":{"x":{"field":"v","type":"quantitative","title":null},"x2":{"datum":0},"y":{"field":"c","type":"ordinal","title":null,"bandPosition":0,"axis":null}}}
]},
{"width":155.7,"height":186.7,"transform":[{"filter":"datum.r == 'Blala' && datum.t == 's'"}],"layer":[
{"mark":{"type":"tick","color":"black","thickness":2,"size":31.1,"opacity":1},"encoding":{"x":{"field":"v","type":"quantitative","title":null,"scale":{"domain":[0,50],"nice":false},"axis":{"title":null,"values":[10,30,50],"labelExpr":"datum.value == 50 ? '50%' : datum.label","labelOffset":{"condition":{"test":"datum.value == 50","value":9},"value":0}}},"y":{"field":"c","type":"ordinal","title":null,"scale":{"type":"band","domain":["200 ha et +","100 - 199","50 - 99","20 - 49","10 - 19","0 - 9"],"paddingInner":0,"paddingOuter":0},"axis":{"title":null,"orient":"right","tickBand":"extent"}}}},
{"mark":{"type":"rule","color":"black","strokeWidth":2},"encoding":{"x":{"datum":0,"type":"quantitative","title":null}}},
{"transform":[{"window":[{"op":"lead","field":"v","as":"u"}],"sort":[{"field":"k","order":"ascending"}]},{"filter":"datum.u != null"}],"mark":{"type":"rule","color":"black","strokeWidth":2,"strokeCap":"square"},"encoding":{"x":{"field":"v","type":"quantitative","title":null},"x2":{"field":"u"},"y":{"field":"c","type":"ordinal","title":null,"bandPosition":0}}},
{"transform":[{"filter":"datum.k == 5"}],"mark":{"type":"rule","color":"black","strokeWidth":2,"strokeCap":"square"},"encoding":{"x":{"field":"v","type":"quantitative","title":null},"x2":{"datum":0},"y":{"field":"c","type":"ordinal","title":null,"bandPosition":0}}}
]}
]}
]}
]}
]}
],
"config":{
"width":1217,
"height":1675,
"group":{"stroke":"black","strokeWidth":4},
"font":"DejaVu Sans",
"view":{"stroke":null},
"axis":{"domainColor":"black","domainWidth":2,"tickColor":"black","tickWidth":2,"labelColor":"black","labelFont":"DejaVu Sans","labelFontSize":19.5,"labelOverlap":false,"labelFlush":false,"labelBound":false,"grid":false},
"axisX":{"tickSize":15,"labelPadding":10},
"axisY":{"labelAlign":"center","labelBaseline":"middle","labelOffset":4},
"axisLeft":{"tickSize":14,"labelPadding":50},
"axisRight":{"tickSize":12,"labelPadding":46},
"title":{"font":"DejaVu Sans","fontSize":23,"fontWeight":"bold","color":"black","anchor":"middle","baseline":"alphabetic","offset":8,"frame":"bounds"}
}
}
